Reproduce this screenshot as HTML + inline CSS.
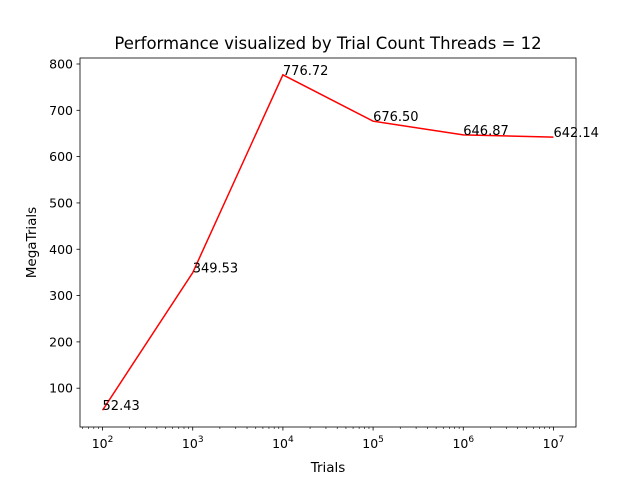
<!DOCTYPE html>
<html><head><meta charset="utf-8"><style>
body{margin:0;background:#fff;}
text{font-family:"DejaVu Sans","Liberation Sans",sans-serif;}
</style></head><body>
<svg id="chart" width="640" height="480" xmlns="http://www.w3.org/2000/svg">
<rect width="640" height="480" fill="#fff"/>
<text x="328" y="49" font-size="16.5" text-anchor="middle">Performance visualized by Trial Count Threads = 12</text>
<g id="plot"></g>
<rect x="80" y="58" width="496" height="369" fill="none" stroke="#000" stroke-width="0.8"/>
<text x="328" y="472" font-size="13.5" text-anchor="middle">Trials</text>
<text x="36" y="242.5" font-size="13.5" text-anchor="middle" transform="rotate(-90 36 242.5)">MegaTrials</text>
</svg>
<script>
const trials=[1e2,1e3,1e4,1e5,1e6,1e7];
const values=[52.43,349.53,776.72,676.50,646.87,642.14];
const labels=["52.43","349.53","776.72","676.50","646.87","642.14"];
const yTicks=[100,200,300,400,500,600,700,800];
const xTickExps=[2,3,4,5,6,7];

const L=80,R=576,T=58,B=427;
const lx0=1.75,lx1=7.25;
const ymin=Math.min(...values),ymax=Math.max(...values),pad=(ymax-ymin)*0.05;
const y0=ymin-pad,y1=ymax+pad;
const sx=v=>L+(Math.log10(v)-lx0)/(lx1-lx0)*(R-L);
const sy=v=>B-(v-y0)/(y1-y0)*(B-T);
const g=document.getElementById('plot');
const NS="http://www.w3.org/2000/svg";
function mk(t,a){const e=document.createElementNS(NS,t);for(const k in a)e.setAttribute(k,a[k]);g.appendChild(e);return e;}

yTicks.forEach(v=>{
  const y=sy(v);
  const tk=mk('line',{x1:L-3.5,x2:L,y1:y,y2:y,stroke:'#000','stroke-width':0.8});
  
  
  const t=mk('text',{x:L-7,y:y+4.5,'font-size':12.5,'text-anchor':'end'});
  t.textContent=v;
  
  
});
for(let e=1;e<=8;e++){for(let m=1;m<10;m++){
  const v=m*Math.pow(10,e);const lv=Math.log10(v);
  if(lv<lx0||lv>lx1)continue;
  const x=sx(v);const major=m===1;
  const tk=mk('line',{x1:x,x2:x,y1:B,y2:B+(major?3.5:2),stroke:'#000','stroke-width':major?0.8:0.6});
  
  
}}
xTickExps.forEach(e=>{
  const x=sx(Math.pow(10,e));
  const t=mk('text',{x:x,y:B+21,'font-size':12.5,'text-anchor':'middle'});
  t.innerHTML='10<tspan dy="-6" font-size="9">'+e+'</tspan>';
  
  
});
const pts=trials.map((t,i)=>sx(t)+','+sy(values[i])).join(' ');
const line=mk('polyline',{points:pts,fill:'none',stroke:'#ff0000','stroke-width':1.5});


trials.forEach((t,i)=>{
  const tx=mk('text',{x:sx(t),y:sy(values[i]),'font-size':13});
  tx.textContent=labels[i];
  
  
});
</script>
</body></html>
